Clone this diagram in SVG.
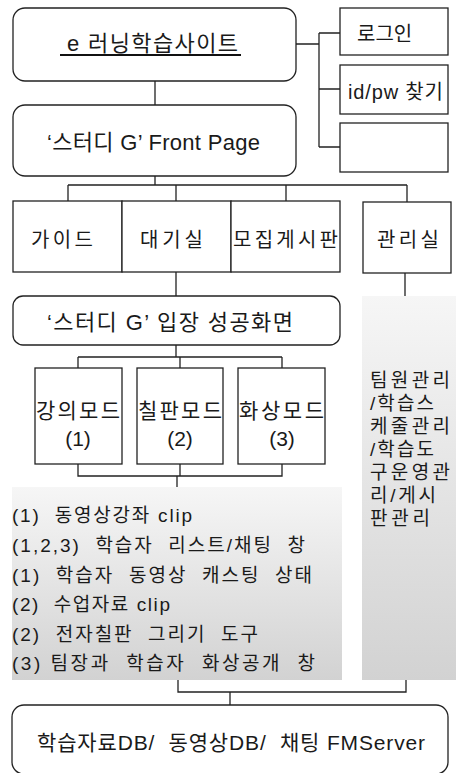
<svg xmlns="http://www.w3.org/2000/svg" width="458" height="773" viewBox="0 0 458 773">
<defs>
<linearGradient id="g" x1="0" y1="0" x2="0" y2="1">
<stop offset="0" stop-color="#f6f6f6"/>
<stop offset="1" stop-color="#d2d2d2"/>
</linearGradient>
<style>
.b{fill:#fff;stroke:#222;stroke-width:1.3}
.c{fill:none;stroke:#222;stroke-width:1.3}
text{font-family:"Liberation Sans","Noto Sans CJK KR",sans-serif;fill:#1a1a1a;dominant-baseline:central}
.m{text-anchor:middle}
.f22{font-size:22px}
.f21{font-size:21px}
.f20{font-size:20px}
.f19{font-size:19px}
</style>
</defs>
<g id="connectors">
<path class="c" d="M155 81V105M296 44H319M319 33V147M319 33H340M319 89H340M319 147H340"/>
<path class="c" d="M155 176V185M68 185H407M68 185V201M176 185V201M286 185V201M407 185V202"/>
<path class="c" d="M176 272V296M405 273V296"/>
<path class="c" d="M176 345V357M78 357H282M78 357V368M180 357V368M282 357V368"/>
<path class="c" d="M78 464V476H282V464M180 464V476M177 476V487"/>
<path class="c" d="M178 680V692H406V680M230 692V705"/>
</g>
<g id="site">
<rect class="b" x="13" y="8" width="283" height="73" rx="12"/>
<text class="f22" x="67" y="43" textLength="171" lengthAdjust="spacing">e 러닝학습사이트</text>
<line x1="60" y1="55" x2="241" y2="55" stroke="#111" stroke-width="2"/>
</g>
<g id="login"><rect class="b" x="340" y="8" width="108" height="47"/><text class="f20" x="357" y="34">로그인</text></g>
<g id="idpw"><rect class="b" x="340" y="65" width="108" height="49"/><text class="f20" x="348" y="92" textLength="95" lengthAdjust="spacing">id/pw 찾기</text></g>
<g id="empty"><rect class="b" x="340" y="123" width="108" height="49"/></g>
<g id="front">
<rect class="b" x="13" y="105" width="283" height="71" rx="12"/>
<text class="f22" x="47" y="142" textLength="213" lengthAdjust="spacing">‘스터디 G’ Front Page</text>
</g>
<g id="guide"><rect class="b" x="13" y="201" width="109" height="71"/><text class="f20" x="31" y="240" textLength="62" lengthAdjust="spacing">가이드</text></g>
<g id="waiting"><rect class="b" x="122" y="201" width="109" height="71"/><text class="f20" x="140" y="240" textLength="63" lengthAdjust="spacing">대기실</text></g>
<g id="recruit"><rect class="b" x="231" y="201" width="109" height="71"/><text class="f20" x="233" y="240" textLength="105" lengthAdjust="spacing">모집게시판</text></g>
<g id="admin"><rect class="b" x="363" y="202" width="88" height="71"/><text class="f20" x="377" y="240" textLength="62" lengthAdjust="spacing">관리실</text></g>
<g id="entry">
<rect class="b" x="13" y="296" width="327" height="49" rx="10"/>
<text class="f22" x="47" y="322" textLength="246" lengthAdjust="spacing" xml:space="preserve">‘스터디 G’ 입장 성공화면</text>
</g>
<g id="lecture"><rect class="b" x="35" y="368" width="87" height="96"/><text class="f21" x="36" y="410" textLength="84" lengthAdjust="spacing">강의모드</text><text class="f21 m" x="78" y="438">(1)</text></g>
<g id="board"><rect class="b" x="137" y="368" width="86" height="96"/><text class="f21" x="138" y="410" textLength="84" lengthAdjust="spacing">칠판모드</text><text class="f21 m" x="180" y="438">(2)</text></g>
<g id="video"><rect class="b" x="238" y="368" width="87" height="96"/><text class="f21" x="239" y="410" textLength="85" lengthAdjust="spacing">화상모드</text><text class="f21 m" x="282" y="438">(3)</text></g>
<g id="features">
<rect x="12" y="487" width="330" height="193" fill="url(#g)"/>
<text class="f19" x="12" y="515" textLength="180" lengthAdjust="spacing" xml:space="preserve">(1)  동영상강좌 clip</text>
<text class="f19" x="12" y="545" textLength="293" lengthAdjust="spacing" xml:space="preserve">(1,2,3)  학습자  리스트/채팅  창</text>
<text class="f19" x="12" y="575" textLength="300" lengthAdjust="spacing" xml:space="preserve">(1)  학습자  동영상  캐스팅  상태</text>
<text class="f19" x="12" y="604" textLength="158" lengthAdjust="spacing" xml:space="preserve">(2)  수업자료 clip</text>
<text class="f19" x="12" y="634" textLength="246" lengthAdjust="spacing" xml:space="preserve">(2)  전자칠판  그리기  도구</text>
<text class="f19" x="12" y="663" textLength="303" lengthAdjust="spacing" xml:space="preserve">(3) 팀장과  학습자  화상공개  창</text>
</g>
<g id="admin-detail">
<rect x="362" y="296" width="94" height="384" fill="url(#g)"/>
<text class="f19" x="370" y="380" textLength="80" lengthAdjust="spacing">팀원관리</text>
<text class="f19" x="370" y="403" textLength="64" lengthAdjust="spacing">/학습스</text>
<text class="f19" x="370" y="426" textLength="80" lengthAdjust="spacing">케줄관리</text>
<text class="f19" x="370" y="449" textLength="64" lengthAdjust="spacing">/학습도</text>
<text class="f19" x="370" y="472" textLength="80" lengthAdjust="spacing">구운영관</text>
<text class="f19" x="370" y="495" textLength="66" lengthAdjust="spacing">리/게시</text>
<text class="f19" x="370" y="518" textLength="60" lengthAdjust="spacing">판관리</text>
</g>
<g id="server">
<rect class="b" x="12" y="705" width="436" height="69" rx="12"/>
<text class="f21" x="37" y="742" textLength="388" lengthAdjust="spacing" xml:space="preserve">학습자료DB/  동영상DB/  채팅 FMServer</text>
</g>
</svg>
